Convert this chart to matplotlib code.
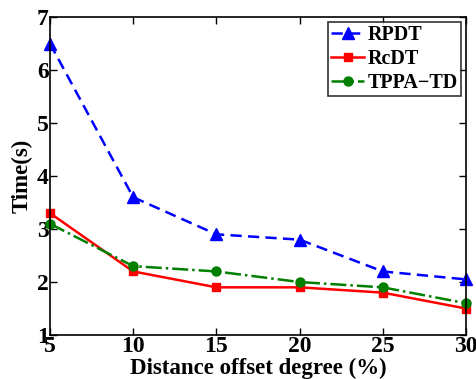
import numpy as np
import matplotlib.pyplot as plt

plt.rcParams['font.family'] = 'Liberation Serif'
plt.rcParams['font.weight'] = 'bold'

x = [5, 10, 15, 20, 25, 30]
rpdt = [6.5, 3.6, 2.9, 2.8, 2.2, 2.05]
rcdt = [3.3, 2.2, 1.9, 1.9, 1.8, 1.5]
tppa = [3.1, 2.3, 2.2, 2.0, 1.9, 1.6]

fig = plt.figure(figsize=(4.76, 3.79), dpi=100)
ax = fig.add_axes([0.105, 0.116, 0.874, 0.839])

ax.plot(x, rpdt, 'b--^', lw=1.8, ms=8, dashes=(4.5, 2.5), label='RPDT', clip_on=False)
ax.plot(x, rcdt, 'r-s', lw=1.8, ms=6, label='RcDT', clip_on=False)
ax.plot(x, tppa, '-.o', color='#007f00', lw=1.8, ms=6.5, label='TPPA\u2212TD', clip_on=False)

ax.set_xlim(5, 30)
ax.set_ylim(1, 7)
ax.set_xticks(x)
ax.set_yticks([1, 2, 3, 4, 5, 6, 7])
ax.tick_params(direction='in', top=True, right=True, labelsize=17, width=1, length=5)
ax.tick_params(axis='x', pad=1)
ax.tick_params(axis='y', pad=1)
for s in ax.spines.values():
    s.set_linewidth(1.2)

ax.set_xlabel('Distance offset degree (%)', fontsize=16.5, fontweight='bold', labelpad=0)
ax.set_ylabel('Time(s)', fontsize=16.5, fontweight='bold', labelpad=3)

leg = ax.legend(loc='upper right', fontsize=14.5, fancybox=False, edgecolor='black',
                handlelength=1.6, borderaxespad=0.25, borderpad=0.15, labelspacing=0.2,
                handletextpad=0.2)
leg.get_frame().set_linewidth(1.2)

fig.savefig('out.png', dpi=100)
